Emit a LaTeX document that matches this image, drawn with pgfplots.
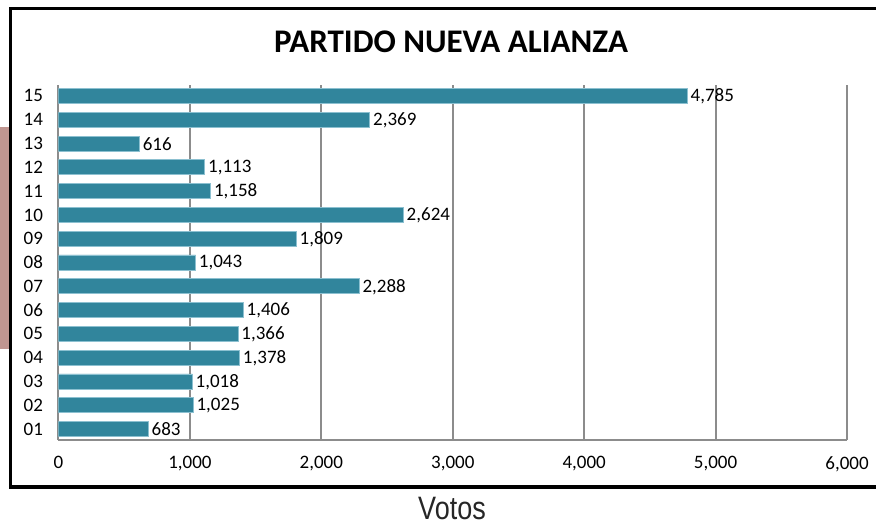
\documentclass[border=0pt]{standalone}
\usepackage{pgfplots}
\pgfplotsset{compat=1.18}
\usepackage{fontspec}
\setmainfont{Carlito}
\newfontfamily\votosfont{Liberation Sans}
\definecolor{barc}{RGB}{49,133,156}
\definecolor{baredge}{RGB}{140,192,208}
\definecolor{gridc}{RGB}{140,140,140}
\definecolor{rose}{RGB}{192,150,145}
\pgfplotstableread{
cat votes
1 683
2 1025
3 1018
4 1378
5 1366
6 1406
7 2288
8 1043
9 1809
10 2624
11 1158
12 1113
13 616
14 2369
15 4785
}\datatable
\begin{document}
\begin{tikzpicture}[x=1pt,y=1pt]
\useasboundingbox (0,0) rectangle (876,527);
\fill[rose] (0,527-349) rectangle (10,527-127);
\draw[line width=3.2pt, line join=miter] (900,527-487) -- (10.7,527-487) -- (10.7,527-8.3) -- (900,527-8.3);
\node[font=\fontsize{33}{38}\selectfont\bfseries, anchor=base] at (451,474) {PARTIDO NUEVA ALIANZA};
\node[font=\votosfont\fontsize{30}{34}\selectfont, anchor=base, xscale=0.9, yscale=1.08, text=black!85] at (452,7) {Votos};
\begin{axis}[
  at={(58.5pt,87pt)}, anchor=south west,
  scale only axis, width=788.5pt, height=355pt,
  xbar, bar width=15pt,
  xmin=0, xmax=6000, ymin=0.54, ymax=15.46,
  xtick={0,1000,...,6000},
  ytick={1,...,15},
  yticklabels={01,02,03,04,05,06,07,08,09,10,11,12,13,14,15},
  axis lines*=left,
  axis line style={-, gridc, line width=2pt},
  xmajorgrids,
  grid style={gridc, line width=2pt},
  major tick length=0pt,
  tick style={draw=none},
  /pgf/number format/.cd, 1000 sep={,}, assume math mode=true,
  /pgfplots/.cd,
  ticklabel style={font=\fontsize{19}{22}\selectfont},
  xticklabel style={yshift=-13pt},
  yticklabel style={xshift=-12pt},
  nodes near coords,
  nodes near coords style={font=\fontsize{19}{22}\selectfont, anchor=west, inner sep=3pt, yshift=-0.5pt, text=black, /pgf/number format/1000 sep={,}, /pgf/number format/assume math mode=true},
]
\addplot[fill=barc, draw=baredge, line width=0.8pt] table[x=votes, y=cat] {\datatable};
\end{axis}
\end{tikzpicture}
\end{document}
